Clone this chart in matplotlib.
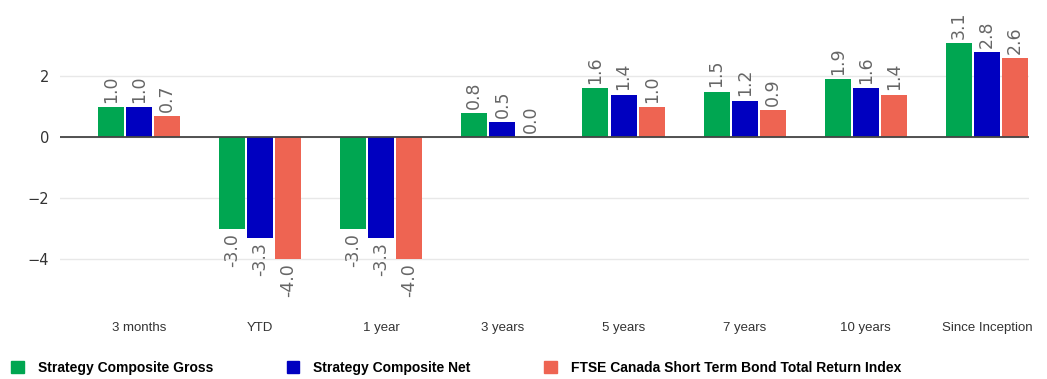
import numpy as np
import matplotlib.pyplot as plt
from matplotlib.patches import Patch

periods = ['3 months', 'YTD', '1 year', '3 years', '5 years', '7 years', '10 years', 'Since Inception']
gross = [1.0, -3.0, -3.0, 0.8, 1.6, 1.5, 1.9, 3.1]
net = [1.0, -3.3, -3.3, 0.5, 1.4, 1.2, 1.6, 2.8]
index = [0.7, -4.0, -4.0, 0.0, 1.0, 0.9, 1.4, 2.6]
series_names = ['Strategy Composite Gross', 'Strategy Composite Net',
                'FTSE Canada Short Term Bond Total Return Index']
colors = ['#00a651', '#0000c0', '#ee6452']

fig = plt.figure(figsize=(10.47, 3.79), dpi=100)
ax = fig.add_axes([60 / 1047, 1 - 305 / 379, 969 / 1047, 305 / 379])

x = np.arange(len(periods))
w = 0.215
step = 0.232
for i, (vals, c) in enumerate(zip([gross, net, index], colors)):
    pos = x + (i - 1) * step
    ax.bar(pos, vals, width=w, color=c, zorder=3)
    for p, v in zip(pos, vals):
        if v >= 0:
            ax.annotate(f'{v:.1f}', (p, v), xytext=(0, 3), textcoords='offset points',
                        rotation=90, ha='center', va='bottom', fontsize=12.5, color='#666666')
        else:
            ax.annotate(f'{v:.1f}', (p, v), xytext=(0, -3), textcoords='offset points',
                        rotation=90, ha='center', va='top', fontsize=12.5, color='#666666')

ax.set_xlim(-0.652, 7.347)
ax.set_ylim(-5.5, 4.5)
ax.set_yticks([-4, -2, 0, 2])
ax.set_xticks(x)
ax.set_xticklabels(periods, family=['Liberation Sans', 'DejaVu Sans'])
ax.tick_params(length=0, labelsize=9.5, labelcolor='#333333')
ax.tick_params(axis='x', pad=12)
ax.tick_params(axis='y', pad=8, labelsize=10.5)
ax.grid(axis='y', color='#e8e8e8', linewidth=1, zorder=0)
ax.axhline(0, color='#444444', linewidth=1.3, zorder=4)
for s in ax.spines.values():
    s.set_visible(False)

handles = [Patch(color=c) for c in colors]
fig.legend(handles, series_names, loc='lower left', bbox_to_anchor=(-0.001, -0.022), ncol=3,
           frameon=False, handlelength=0.9, handleheight=0.9, handletextpad=1.0,
           columnspacing=5.3,
           prop={'weight': 'bold', 'size': 10, 'family': ['Liberation Sans Narrow', 'Liberation Sans']})

fig.savefig('out.png', dpi=100)
